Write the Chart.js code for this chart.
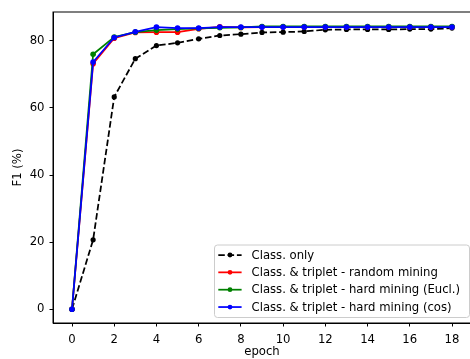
<!DOCTYPE html>
<html>
<head>
<meta charset="utf-8">
<script src="https://cdn.jsdelivr.net/npm/chart.js@4"></script>
<style>
  html, body { margin: 0; padding: 0; background: #fff; overflow: hidden; }
  #chart { display: block; }
</style>
</head>
<body>
<canvas id="chart" width="475" height="359"></canvas>
<script>
// epochs and F1 scores
const epochs = [0, 1, 2, 3, 4, 5, 6, 7, 8, 9, 10, 11, 12, 13, 14, 15, 16, 17, 18];
const classOnly = [0, 20.7, 63.3, 74.7, 78.6, 79.4, 80.6, 81.6, 82.0, 82.5, 82.6, 82.8, 83.3, 83.4, 83.4, 83.4, 83.5, 83.5, 83.8];
const randomMining = [0, 73.2, 80.8, 82.5, 82.6, 82.6, 83.6, 84.2, 84.0, 84.1, 84.1, 84.1, 84.1, 84.1, 84.1, 84.1, 84.1, 84.1, 84.1];
const hardEucl = [0, 76.0, 81.1, 82.6, 83.2, 83.5, 83.7, 83.9, 84.0, 84.3, 84.3, 84.3, 84.3, 84.3, 84.3, 84.3, 84.3, 84.3, 84.3];
const hardCos = [0, 73.7, 81.0, 82.7, 84.1, 83.8, 83.8, 84.1, 84.1, 84.1, 84.1, 84.1, 84.1, 84.1, 84.1, 84.1, 84.1, 84.1, 84.1];
const seriesLabels = [
  'Class. only',
  'Class. & triplet - random mining',
  'Class. & triplet - hard mining (Eucl.)',
  'Class. & triplet - hard mining (cos)'
];
const xTicks = [0, 2, 4, 6, 8, 10, 12, 14, 16, 18];
const yTicks = [0, 20, 40, 60, 80];

const FONT = 'DejaVu Sans';
const FS = 11.67;
const DASH = [6.5, 2.8];
const toPts = arr => arr.map((v, i) => ({ x: epochs[i], y: v }));

// later series sit on top, like matplotlib
function series(label, data, color, dashed, r, order) {
  return {
    label: label,
    data: toPts(data),
    order: order,
    borderColor: color,
    backgroundColor: color,
    borderWidth: 1.75,
    borderDash: dashed ? DASH : [],
    pointRadius: r,
    pointBorderWidth: 0,
    pointBackgroundColor: color,
    tension: 0,
    fill: false
  };
}

// frame around the plot area (matplotlib spines)
const frame = {
  id: 'frame',
  afterDatasetsDraw(chart) {
    const { ctx, chartArea: a } = chart;
    ctx.save();
    ctx.strokeStyle = '#000';
    ctx.lineWidth = 1;
    ctx.strokeRect(a.left, a.top, a.right - a.left, a.bottom - a.top);
    ctx.restore();
  }
};

// legend box in the lower right of the plot
const boxLegend = {
  id: 'boxLegend',
  afterDraw(chart) {
    const ctx = chart.ctx;
    const x0 = 214.5, y0 = 245, w = 255, h = 72.5, rowH = 17.35;
    ctx.save();
    ctx.beginPath();
    ctx.roundRect(x0, y0, w, h, 3);
    ctx.fillStyle = 'rgba(255,255,255,0.85)';
    ctx.fill();
    ctx.strokeStyle = '#cccccc';
    ctx.lineWidth = 1;
    ctx.stroke();
    ctx.font = FS + 'px "' + FONT + '"';
    ctx.textBaseline = 'middle';
    const items = chart.data.datasets;
    items.forEach((ds, i) => {
      const y = 255 + i * rowH;
      ctx.strokeStyle = ds.borderColor;
      ctx.lineWidth = ds.borderWidth;
      ctx.setLineDash(ds.borderDash);
      ctx.beginPath();
      ctx.moveTo(218.3, y);
      ctx.lineTo(241.6, y);
      ctx.stroke();
      ctx.setLineDash([]);
      ctx.fillStyle = ds.borderColor;
      ctx.beginPath();
      ctx.arc(230, y, 2.4, 0, Math.PI * 2);
      ctx.fill();
      ctx.fillStyle = '#000';
      ctx.fillText(ds.label, 251.5, y + 0.5);
    });
    ctx.restore();
  }
};

new Chart(document.getElementById('chart'), {
  type: 'line',
  data: {
    datasets: [
      series(seriesLabels[0], classOnly, '#000000', true, 2.6, 3),
      series(seriesLabels[1], randomMining, '#ff0000', false, 2.8, 2),
      series(seriesLabels[2], hardEucl, '#008000', false, 2.8, 1),
      series(seriesLabels[3], hardCos, '#0000ff', false, 2.8, 0)
    ]
  },
  options: {
    responsive: false,
    animation: false,
    devicePixelRatio: 1,
    layout: { padding: { left: 0, top: 9.5, right: 0.5, bottom: 0 } },
    plugins: { legend: { display: false }, tooltip: { enabled: false } },
    scales: {
      x: {
        type: 'linear',
        min: -0.9,
        max: 18.9,
        afterBuildTicks: s => { s.ticks = xTicks.map(v => ({ value: v })); },
        afterFit: s => { s.height = 36; },
        grid: { drawOnChartArea: false, drawTicks: true, tickLength: 3.5, color: '#000', tickWidth: 1 },
        border: { display: true, color: '#000', width: 1 },
        ticks: { color: '#000', font: { family: FONT, size: FS }, padding: 6, maxRotation: 0 },
        title: { display: true, text: 'epoch', color: '#000', font: { family: FONT, size: FS }, padding: { top: 0, bottom: 0 } }
      },
      y: {
        type: 'linear',
        min: -4.1,
        max: 88.6,
        afterBuildTicks: s => { s.ticks = yTicks.map(v => ({ value: v })); },
        afterFit: s => { s.width = 53; },
        grid: { drawOnChartArea: false, drawTicks: true, tickLength: 3.5, color: '#000', tickWidth: 1 },
        border: { display: true, color: '#000', width: 1 },
        ticks: { color: '#000', font: { family: FONT, size: FS }, padding: 5 },
        title: { display: true, text: 'F1 (%)', color: '#000', font: { family: FONT, size: FS }, padding: { top: 11, bottom: 0 } }
      }
    }
  },
  plugins: [frame, boxLegend]
});
</script>
</body>
</html>
